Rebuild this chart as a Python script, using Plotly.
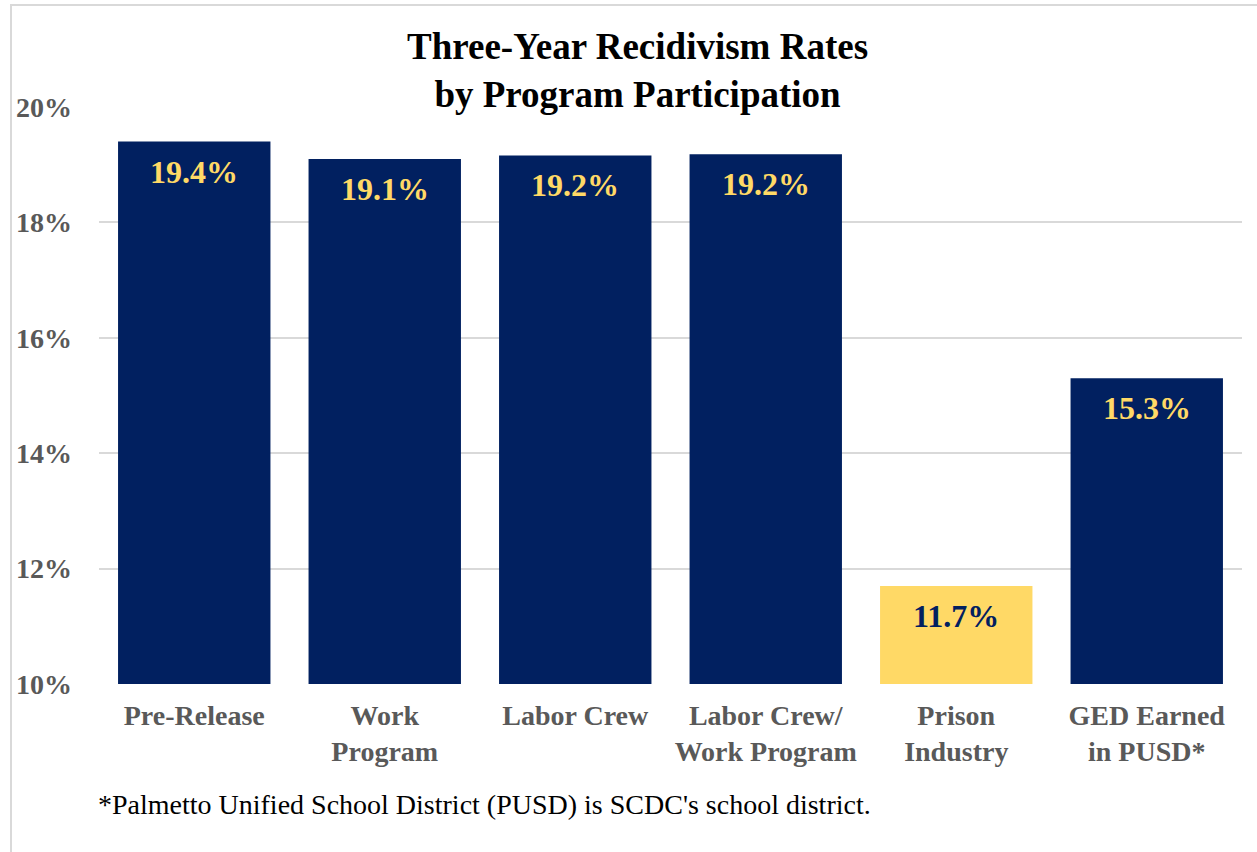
import plotly.graph_objects as go

# Three-year recidivism rates by program participation
programs = ["Pre-Release", "Work<br>Program", "Labor Crew", "Labor Crew/<br>Work Program",
            "Prison<br>Industry", "GED Earned<br>in PUSD*"]
rates = [19.4, 19.1, 19.16, 19.18, 11.7, 15.3]
highlight = [False, False, False, False, True, False]
y_ticks = [10, 12, 14, 16, 18, 20]
y_tick_labels = ["10%", "12%", "14%", "16%", "18%", "20%"]

NAVY = "#012060"
GOLD = "#FFD966"
GREY = "#595959"
SERIF = "'Liberation Serif', 'Times New Roman', Tinos, serif"

bar_colors = [GOLD if h else NAVY for h in highlight]
label_colors = [NAVY if h else GOLD for h in highlight]

fig = go.Figure(go.Bar(
    x=programs,
    y=rates,
    marker=dict(color=bar_colors, line=dict(width=0)),
    width=0.8,
    hoverinfo="skip",
))

# Value labels inside the top of each bar
for prog, val, col in zip(programs, rates, label_colors):
    fig.add_annotation(
        x=prog, y=val, xref="x", yref="y",
        text=f"<b>{val:.1f}%</b>", showarrow=False,
        yanchor="middle", yshift=-30,
        font=dict(family=SERIF, size=32, color=col),
    )

# Title
fig.add_annotation(
    x=0.4713, y=1.063, xref="paper", yref="paper",
    text="<b>Three-Year Recidivism Rates<br>by Program Participation</b>",
    showarrow=False, xanchor="center", yanchor="middle", align="center",
    font=dict(family=SERIF, size=37, color="black"),
)

# Footnote
fig.add_annotation(
    x=-0.0026, y=-0.208, xref="paper", yref="paper",
    text="*Palmetto Unified School District (PUSD) is SCDC's school district.",
    showarrow=False, xanchor="left", yanchor="middle",
    font=dict(family=SERIF, size=28, color="black"),
)

# Chart frame
fig.add_shape(
    type="rect", xref="paper", yref="paper",
    x0=-0.077, x1=1.2, y0=-0.5, y1=1.1768,
    line=dict(color="#D9D9D9", width=2), fillcolor="rgba(0,0,0,0)", layer="below",
)

fig.update_layout(
    width=1257, height=852,
    margin=dict(l=99, r=15, t=107, b=168),
    paper_bgcolor="white", plot_bgcolor="white",
    showlegend=False,
    bargap=0.2,
    xaxis=dict(
        showgrid=False, zeroline=False, showline=False, ticks="",
        tickvals=programs, ticktext=[f"<b>{p}</b>".replace("<br>", "</b><br><b>") for p in programs],
        tickfont=dict(family=SERIF, size=28, color=GREY),
        ticklabelstandoff=12,
    ),
    yaxis=dict(
        range=[10, 20], tickvals=y_ticks, ticktext=[f"<b>{t}</b>" for t in y_tick_labels],
        showgrid=True, gridcolor="#D9D9D9", gridwidth=1.5,
        zeroline=False, showline=False, ticks="",
        tickfont=dict(family=SERIF, size=28, color=GREY),
        ticklabelstandoff=26,
    ),
)

fig.write_html("out.html")
